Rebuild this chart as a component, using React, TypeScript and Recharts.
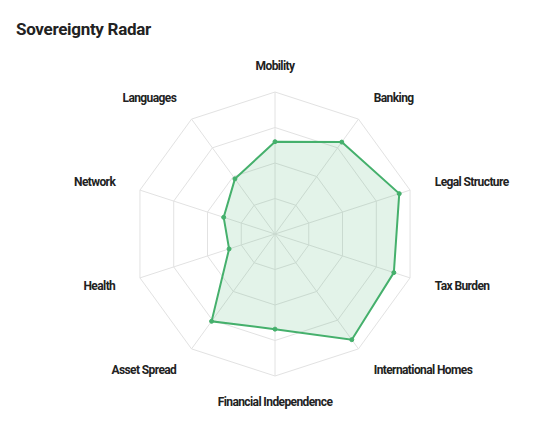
import { RadarChart, Radar, PolarGrid, PolarAngleAxis, PolarRadiusAxis } from 'recharts';

const categories = [
  'Mobility',
  'Banking',
  'Legal Structure',
  'Tax Burden',
  'International Homes',
  'Financial Independence',
  'Asset Spread',
  'Health',
  'Network',
  'Languages',
];

const scores = [65, 80, 92, 88, 92, 67, 76, 34, 38, 48];

const data = categories.map((name, i) => ({ name, score: scores[i] }));

const GREEN = '#45b06c';

function AngleTick(props: any) {
  const { x, y, textAnchor, payload } = props;
  return (
    <text
      x={x}
      y={y}
      textAnchor={textAnchor}
      dominantBaseline="central"
      fontFamily="Roboto, sans-serif"
      fontWeight={700}
      fontSize={12}
      letterSpacing={-0.6}
      fill="#222"
    >
      {payload.value}
    </text>
  );
}

export default function App() {
  return (
    <div style={{ position: 'absolute', top: 0, left: 0, width: 550, height: 434, background: '#fff' }}>
      <div
        style={{
          position: 'absolute',
          left: 16,
          top: 17,
          fontFamily: 'Roboto, sans-serif',
          fontWeight: 700,
          fontSize: 17,
          letterSpacing: -0.3,
          color: '#222',
          lineHeight: '24px',
        }}
      >
        Sovereignty Radar
      </div>
      <RadarChart width={550} height={434} data={data} cx={275} cy={234} outerRadius={142}>
        <PolarGrid stroke="#e2e2e2" />
        <PolarRadiusAxis domain={[0, 100]} tickCount={5} tick={false} axisLine={false} />
        <PolarAngleAxis dataKey="name" tick={AngleTick} tickLine={false} axisLine={false} tickSize={26} />
        <Radar
          dataKey="score"
          stroke={GREEN}
          strokeWidth={2}
          fill={GREEN}
          fillOpacity={0.15}
          dot={{ r: 2, fill: GREEN, stroke: GREEN, strokeWidth: 1, fillOpacity: 1 }}
          isAnimationActive={false}
        />
      </RadarChart>
    </div>
  );
}
